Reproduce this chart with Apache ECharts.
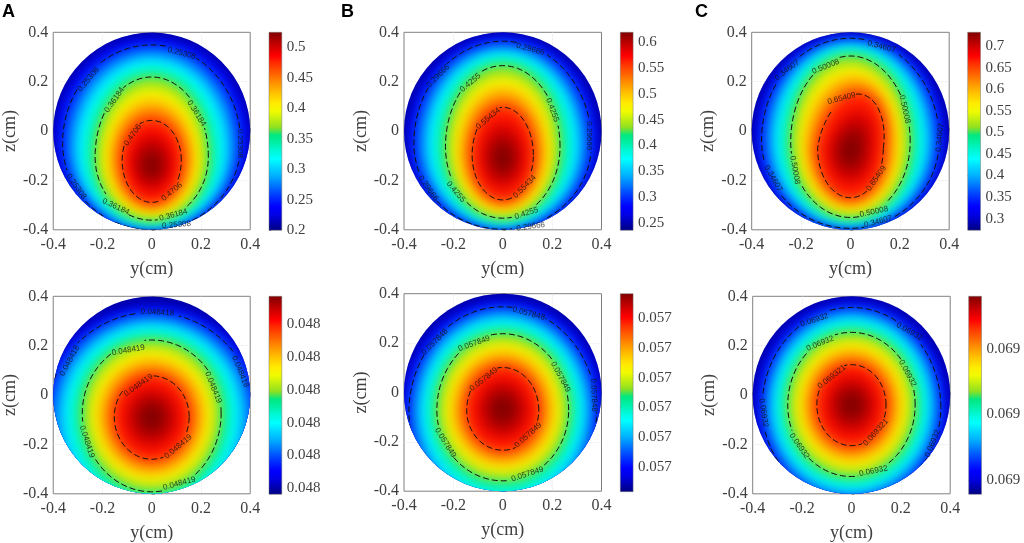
<!DOCTYPE html>
<html>
<head>
<meta charset="utf-8">
<title>contour panels</title>
<script src="https://cdn.jsdelivr.net/npm/echarts@6/dist/echarts.min.js"></script>
<style>
html,body{margin:0;padding:0;background:#fff;}
#main{width:1024px;height:543px;}
</style>
</head>
<body>
<div id="main"></div>
<script>
//axis ticks
var axisTicks = [-0.4,-0.2,0,0.2,0.4];

//colour scale, bottom to top
var scaleColors = ['#000080','#0000b4','#0000e6','#0000ff','#0028ff','#0055ff','#0085ff','#00b4ff','#00d8ff','#00ffff','#00f8d8','#00f0a8','#00e880',
    '#90e020','#c0ee10','#f0fa00','#ffec00','#ffcc00','#ffa800','#ff8000','#ff5800','#ff3000','#ff0000','#d80000','#ac0000','#800000'];

//colorbar range and ticks
var rangeA1 = [0.2,0.525];
var rangeB1 = [0.236,0.619];
var rangeC1 = [0.273,0.732];
var rangeA2 = [0.0484181,0.0484193];
var rangeB2 = [0.0578481,0.0578493];
var rangeC2 = [0.0693192,0.0693216];
var ticksA1 = [0.2,0.25,0.3,0.35,0.4,0.45,0.5];
var ticksB1 = [0.25,0.3,0.35,0.4,0.45,0.5,0.55,0.6];
var ticksC1 = [0.3,0.35,0.4,0.45,0.5,0.55,0.6,0.65,0.7];
var ticksA2 = [0.04841814,0.04841834,0.04841853,0.04841873,0.04841893,0.04841913];
var ticksB2 = [0.05784825,0.05784843,0.05784861,0.05784879,0.05784897,0.05784915];
var ticksC2 = [0.06931937,0.06932017,0.06932096];

//iso levels: value, zTop, zMid, zBottom, half width, (top lean)
var fieldA1 = [[0.2,0.62,-0.03,-0.7,0.65],[0.226,0.38,-0.04,-0.41,0.395],[0.25308,0.349,-0.05,-0.40,0.362],[0.281,0.317,-0.064,-0.39,0.329],
    [0.308,0.284,-0.077,-0.38,0.296],[0.335,0.252,-0.091,-0.371,0.263],[0.36184,0.219,-0.104,-0.361,0.23],[0.389,0.175,-0.108,-0.343,0.203],
    [0.417,0.131,-0.111,-0.325,0.175],[0.444,0.087,-0.115,-0.307,0.148],[0.4706,0.043,-0.118,-0.289,0.12],[0.489,-0.012,-0.125,-0.244,0.084],
    [0.505,-0.058,-0.13,-0.207,0.054],[0.5185,-0.10,-0.135,-0.173,0.026]];
var fieldB1 = [[0.236,0.62,-0.04,-0.7,0.65],[0.2666,0.387,-0.045,-0.41,0.385],[0.29666,0.364,-0.05,-0.398,0.36],[0.3318,0.337,-0.053,-0.386,0.327],
    [0.3635,0.314,-0.057,-0.375,0.296],[0.3957,0.29,-0.06,-0.364,0.264],[0.4255,0.265,-0.063,-0.353,0.232],[0.4593,0.223,-0.072,-0.334,0.205],
    [0.4915,0.18,-0.08,-0.316,0.178],[0.5233,0.138,-0.089,-0.297,0.151],[0.55434,0.096,-0.097,-0.279,0.124],[0.5769,0.033,-0.102,-0.23,0.087],
    [0.596,-0.02,-0.107,-0.189,0.056],[0.6113,-0.069,-0.111,-0.151,0.027]];
var fieldC1 = [[0.273,0.62,-0.03,-0.7,0.65],[0.3097,0.393,-0.033,-0.407,0.385],[0.34607,0.376,-0.036,-0.394,0.36],[0.3878,0.358,-0.038,-0.383,0.33],
    [0.4259,0.34,-0.04,-0.372,0.301],[0.4644,0.322,-0.042,-0.361,0.271],[0.50008,0.304,-0.043,-0.35,0.242],[0.5406,0.266,-0.05,-0.33,0.215],
    [0.5791,0.227,-0.056,-0.31,0.188,0.01],[0.6173,0.189,-0.063,-0.29,0.16,0.02],[0.65409,0.15,-0.07,-0.27,0.133,0.03],[0.6815,0.081,-0.073,-0.213,0.093,0.03],
    [0.7045,0.024,-0.076,-0.166,0.06,0.02],[0.7228,-0.029,-0.078,-0.122,0.029,0.01]];
var fieldA2 = [[0.0484181,0.62,-0.09,-0.8,0.65],[0.0484182,0.362,-0.09,-0.55,0.452],[0.0484183,0.335,-0.09,-0.52,0.425],[0.0484184,0.307,-0.086,-0.488,0.389],
    [0.0484185,0.279,-0.082,-0.456,0.354],[0.0484186,0.251,-0.078,-0.424,0.318],[0.0484187,0.223,-0.074,-0.392,0.282],[0.0484188,0.187,-0.078,-0.359,0.25],
    [0.0484189,0.15,-0.081,-0.326,0.217],[0.048419,0.114,-0.085,-0.293,0.185],[0.0484191,0.078,-0.088,-0.26,0.152],[0.04841917,0.028,-0.089,-0.209,0.106],
    [0.04841923,-0.014,-0.089,-0.167,0.068],[0.04841928,-0.053,-0.09,-0.128,0.033]];
var fieldB2 = [[0.0578481,0.62,-0.08,-0.8,0.65],[0.0578482,0.374,-0.08,-0.53,0.41],[0.0578483,0.347,-0.08,-0.50,0.38],[0.0578484,0.32,-0.078,-0.465,0.352],
    [0.0578485,0.293,-0.076,-0.429,0.324],[0.0578486,0.265,-0.074,-0.394,0.295],[0.0578487,0.238,-0.072,-0.358,0.267],[0.0578488,0.204,-0.072,-0.327,0.237],
    [0.0578489,0.17,-0.072,-0.296,0.207],[0.057849,0.135,-0.072,-0.265,0.176],[0.0578491,0.101,-0.072,-0.234,0.146],[0.05784917,0.051,-0.07,-0.183,0.102],
    [0.05784923,0.01,-0.068,-0.143,0.066],[0.05784928,-0.028,-0.067,-0.102,0.032]];
var fieldC2 = [[0.0693192,0.62,-0.05,-0.8,0.65],[0.06931939,0.38,-0.05,-0.46,0.39],[0.0693196,0.355,-0.05,-0.43,0.362],[0.0693198,0.33,-0.048,-0.405,0.336],
    [0.06932,0.305,-0.045,-0.38,0.31],[0.0693202,0.279,-0.043,-0.355,0.284],[0.0693204,0.254,-0.04,-0.33,0.258],[0.0693206,0.221,-0.04,-0.299,0.229],
    [0.0693208,0.189,-0.04,-0.268,0.199],[0.069321,0.156,-0.04,-0.236,0.17],[0.0693212,0.123,-0.04,-0.205,0.14],[0.06932134,0.074,-0.04,-0.156,0.098],
    [0.06932146,0.033,-0.04,-0.114,0.063],[0.06932155,-0.004,-0.04,-0.076,0.031]];

//which rows of a field are the dashed contours
var contourRows = [2,6,10];

//contour labels: y, z, rotation, text
var labelsA1 = [[0.122,0.315,-15,'0.25308'],[-0.257,0.209,50,'0.25308'],[0.36,-0.05,-90,'0.25308'],[-0.306,-0.225,-55,'0.25308'],[0.101,-0.38,5,'0.25308'],
    [-0.151,0.126,55,'0.36184'],[0.182,0.072,-58,'0.36184'],[-0.146,-0.306,-25,'0.36184'],[0.088,-0.34,15,'0.36184'],[-0.077,-0.016,55,'0.4706'],[0.082,-0.246,40,'0.4706']];
var labelsB1 = [[0.112,0.332,-15,'0.29666'],[-0.262,0.223,45,'0.29666'],[0.35,-0.019,-90,'0.29666'],[-0.302,-0.232,-55,'0.29666'],[0.113,-0.387,8,'0.29666'],
    [-0.131,0.196,40,'0.4255'],[0.201,0.085,-70,'0.4255'],[-0.19,-0.246,-50,'0.4255'],[0.096,-0.333,18,'0.4255'],[-0.059,0.051,40,'0.55434'],[0.089,-0.225,45,'0.55434']];
var labelsC1 = [[0.126,0.342,-15,'0.34607'],[-0.257,0.247,38,'0.34607'],[0.362,-0.026,85,'0.34607'],[-0.313,-0.192,-60,'0.34607'],[0.112,-0.367,15,'0.34607'],
    [-0.1,0.261,22,'0.50008'],[0.22,0.088,-78,'0.50008'],[-0.225,-0.158,-80,'0.50008'],[0.095,-0.327,12,'0.50008'],[-0.036,0.132,15,'0.65409'],[0.105,-0.192,55,'0.65409']];
var labelsA2 = [[0.023,0.335,-3,'0.048418'],[-0.333,0.139,62,'0.048418'],[0.36,0.095,-68,'0.048418'],[-0.095,0.182,10,'0.048419'],[0.25,0.031,-68,'0.048419'],
    [-0.263,-0.189,-72,'0.048419'],[0.112,-0.358,15,'0.048419'],[-0.054,0.04,35,'0.048419'],[0.108,-0.209,40,'0.048419']];
var labelsB2 = [[0.105,0.32,-15,'0.057848'],[-0.275,0.205,45,'0.057848'],[0.369,-0.011,-88,'0.057848'],[-0.116,0.198,20,'0.057849'],[0.234,0.063,-62,'0.057849'],
    [-0.232,-0.204,-58,'0.057849'],[0.1,-0.331,18,'0.057849'],[-0.077,0.053,38,'0.057849'],[0.103,-0.173,42,'0.057849']];
var labelsC2 = [[-0.15,0.304,18,'0.06932'],[0.235,0.257,-30,'0.06932'],[-0.356,-0.072,-82,'0.06932'],[0.329,-0.196,68,'0.06932'],[-0.127,0.209,22,'0.06932'],
    [0.227,0.088,-62,'0.06932'],[-0.211,-0.207,-55,'0.06932'],[0.089,-0.308,12,'0.06932'],[-0.08,0.074,38,'0.069321'],[0.099,-0.151,48,'0.069321']];

//panel boxes in pixels: plot left, plot top, bar left, bar top
var panels = [
    {field:fieldA1,labels:labelsA1,range:rangeA1,ticks:ticksA1,digits:0,x:52.7,y:32.3,bx:269,by:32.3},
    {field:fieldB1,labels:labelsB1,range:rangeB1,ticks:ticksB1,digits:0,x:404,y:32.3,bx:620.3,by:32.3},
    {field:fieldC1,labels:labelsC1,range:rangeC1,ticks:ticksC1,digits:0,x:751.7,y:32.3,bx:967.7,by:32.3},
    {field:fieldA2,labels:labelsA2,range:rangeA2,ticks:ticksA2,digits:3,x:52.7,y:296.3,bx:269,by:296.3},
    {field:fieldB2,labels:labelsB2,range:rangeB2,ticks:ticksB2,digits:3,x:404,y:293.7,bx:620.3,by:293.7},
    {field:fieldC2,labels:labelsC2,range:rangeC2,ticks:ticksC2,digits:3,x:752.7,y:296.3,bx:968.7,by:296.3}
];
var plotSize = 197.5;
var barWidth = 12.8;
var serifFont = '"Liberation Serif","Times New Roman",serif';
var offCanvas = 3000;

//closed egg curve of one level, in pixels
function levelPoints(api,row,dx){
    var pts = [];
    var lean = row[5] || 0;
    for(var k=0;k<=120;k++){
        var a = k/120*Math.PI*2;
        var c = Math.cos(a), s = Math.sin(a);
        var y, z;
        if(s>=0){
            y = row[4]*c+lean*s;
            z = row[2]+(row[1]-row[2])*s;
        }else{
            y = row[4]*c;
            z = row[2]+(row[2]-row[3])*s;
        }
        var pt = api.coord([y,z]);
        pts.push([pt[0]-dx,pt[1]]);
    }
    return pts;
}
function diskClip(api){
    var o = api.coord([0,0]);
    return {type:'circle',shape:{cx:o[0],cy:o[1],r:api.size([0.4,0])[0]}};
}

var option = {
    animation:false,
    backgroundColor:'#fff',
    grid:[],xAxis:[],yAxis:[],series:[],visualMap:[],
    graphic:[
        {type:'text',left:2,top:3,style:{text:'A',font:'bold 18px "Liberation Sans",Arial',fill:'#000'}},
        {type:'text',left:341,top:3,style:{text:'B',font:'bold 18px "Liberation Sans",Arial',fill:'#000'}},
        {type:'text',left:695,top:3,style:{text:'C',font:'bold 18px "Liberation Sans",Arial',fill:'#000'}}
    ]
};

for(var i=0;i<panels.length;i++){
    addPanel(panels[i]);
}

function addPanel(p){
    var g = option.grid.length;
    option.grid.push({left:p.x,top:p.y,width:plotSize,height:plotSize,show:true,borderColor:'#808080',borderWidth:1,containLabel:false});
    option.grid.push({left:p.bx,top:p.by,width:barWidth,height:plotSize+0.5});
    var tickLine = {show:true,inside:true,length:3,lineStyle:{color:'#808080',width:0.8},customValues:axisTicks};
    var gridLine = {show:true,showMinLine:false,showMaxLine:false,lineStyle:{color:'#e0e0e0',width:0.7,type:'dotted'}};
    option.xAxis.push({
        gridIndex:g,type:'value',min:-0.4,max:0.4,name:'y(cm)',nameLocation:'middle',nameGap:30,
        nameTextStyle:{fontFamily:serifFont,fontSize:18,color:'#404040'},
        axisLine:{show:false},axisTick:tickLine,splitLine:gridLine,
        axisLabel:{customValues:axisTicks,margin:7,fontFamily:serifFont,fontSize:16,color:'#404040',formatter:function(v){return String(v);}}
    });
    option.yAxis.push({
        gridIndex:g,type:'value',min:-0.4,max:0.4,name:'z(cm)',nameLocation:'middle',nameGap:31,
        nameTextStyle:{fontFamily:serifFont,fontSize:18,color:'#404040'},
        axisLine:{show:false},axisTick:tickLine,splitLine:gridLine,
        axisLabel:{customValues:axisTicks,margin:5,fontFamily:serifFont,fontSize:16,color:'#404040',formatter:function(v){return String(v);}}
    });
    option.xAxis.push({gridIndex:g+1,type:'value',min:0,max:1,show:false});
    option.yAxis.push({
        gridIndex:g+1,type:'value',position:'right',min:p.range[0],max:p.range[1],
        axisLine:{show:false},splitLine:{show:false},
        axisTick:{show:true,inside:false,length:2,lineStyle:{color:'#555',width:0.8},customValues:p.ticks},
        axisLabel:{customValues:p.ticks,margin:5,fontFamily:serifFont,fontSize:15,color:'#404040',formatter:function(v){
            //the original figure cuts these off at three places
            return p.digits ? (Math.floor(v*1000)/1000).toFixed(p.digits) : String(v);
        }}
    });

    //coloured field, outer level first; each level paints inside its curve, so the map sits a bit low
    var span = p.range[1]-p.range[0];
    option.visualMap.push({
        type:'continuous',show:false,min:p.range[0]-0.03*span,max:p.range[1]-0.03*span,dimension:0,
        seriesIndex:option.series.length,inRange:{color:scaleColors}
    });
    option.series.push({
        type:'custom',xAxisIndex:g,yAxisIndex:g,silent:true,clip:false,
        data:p.field,
        renderItem:function(params,api){
            var row = p.field[params.dataIndex];
            var col = api.visual('color');
            //shape stays off the canvas, only its soft shadow lands in the disk
            return {
                type:'polygon',
                shape:{points:levelPoints(api,row,offCanvas)},
                style:{fill:col,shadowBlur:12,shadowColor:col,shadowOffsetX:offCanvas},
                clipPath:diskClip(api)
            };
        }
    });

    //dashed contours, with a gap round each label
    var lines = [];
    for(var c=0;c<contourRows.length;c++){
        lines.push(p.field[contourRows[c]]);
    }
    option.series.push({
        type:'custom',xAxisIndex:g,yAxisIndex:g,silent:true,clip:false,
        data:lines,
        renderItem:function(params,api){
            var row = lines[params.dataIndex];
            var pts = levelPoints(api,row,0);
            var centres = [];
            for(var l=0;l<p.labels.length;l++){
                centres.push({c:api.coord([p.labels[l][0],p.labels[l][1]]),r:p.labels[l][3].length*2.1});
            }
            var kids = [], run = [];
            for(var k=0;k<pts.length;k++){
                var hide = false;
                for(var m=0;m<centres.length;m++){
                    var dx = pts[k][0]-centres[m].c[0], dy = pts[k][1]-centres[m].c[1];
                    if(dx*dx+dy*dy<centres[m].r*centres[m].r){
                        hide = true;
                    }
                }
                if(hide){
                    if(run.length>1) kids.push(segment(run,api));
                    run = [];
                }else{
                    run.push(pts[k]);
                }
            }
            if(run.length>1) kids.push(segment(run,api));
            return {type:'group',children:kids};
        }
    });

    //contour label text
    var labelData = [];
    for(var n=0;n<p.labels.length;n++){
        var lb = p.labels[n];
        labelData.push({value:[lb[0],lb[1]],label:{rotate:lb[2],formatter:lb[3]}});
    }
    option.series.push({
        type:'scatter',xAxisIndex:g,yAxisIndex:g,silent:true,symbolSize:1,
        itemStyle:{color:'rgba(0,0,0,0)'},
        label:{show:true,position:'inside',fontFamily:'"Liberation Sans",Arial',fontSize:8,color:'#111'},
        data:labelData
    });

    //colorbar
    var stops = [];
    for(var s=0;s<scaleColors.length;s++){
        stops.push({offset:1-s/(scaleColors.length-1),color:scaleColors[s]});
    }
    stops.reverse();
    option.series.push({
        type:'custom',xAxisIndex:g+1,yAxisIndex:g+1,silent:true,
        data:[[0,p.range[0],1,p.range[1]]],
        renderItem:function(params,api){
            var a = api.coord([api.value(0),api.value(3)]);
            var b = api.coord([api.value(2),api.value(1)]);
            return {
                type:'rect',
                shape:{x:a[0],y:a[1],width:b[0]-a[0],height:b[1]-a[1]},
                style:{fill:new echarts.graphic.LinearGradient(0,0,0,1,stops),stroke:'#777',lineWidth:0.5}
            };
        }
    });
}
function segment(run,api){
    return {
        type:'polyline',
        shape:{points:run},
        style:{fill:null,stroke:'#111',lineWidth:1,lineDash:[6,3]},
        clipPath:diskClip(api)
    };
}

var chart = echarts.init(document.getElementById('main'));
chart.setOption(option);
</script>
</body>
</html>
